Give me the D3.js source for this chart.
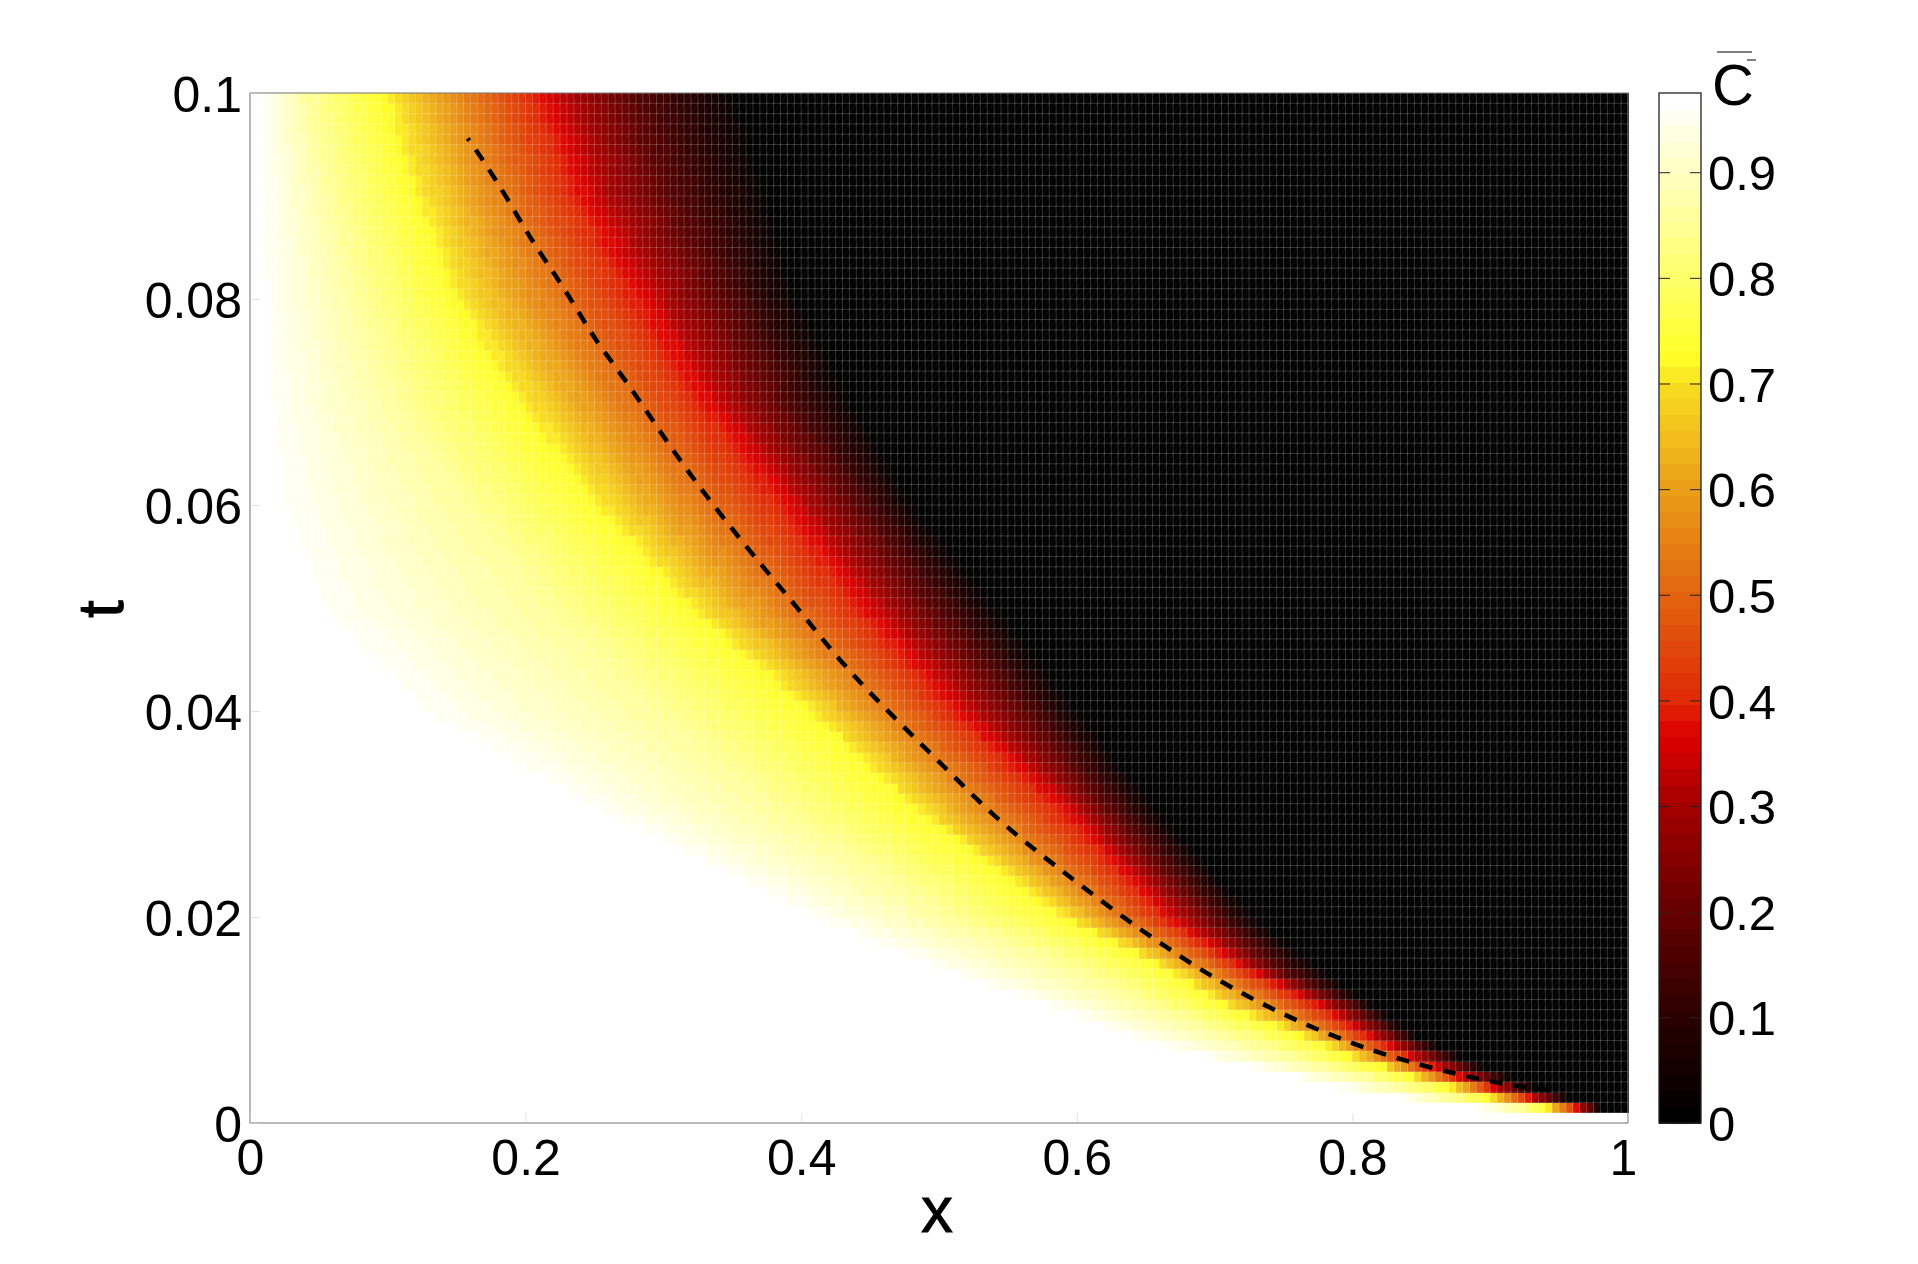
<!DOCTYPE html>
<html>
<head>
<meta charset="utf-8">
<script src="https://cdn.jsdelivr.net/npm/d3@7"></script>
<style>
body { margin: 0; background: #fff; }
text { font-family: "Liberation Sans", sans-serif; fill: #000; }
.axis path { display: none; }
</style>
</head>
<body>
<svg id="chart" width="1918" height="1264"></svg>
<script>
var xTicks = [0, 0.2, 0.4, 0.6, 0.8, 1];
var tTicks = [0, 0.02, 0.04, 0.06, 0.08, 0.1];
var cTicks = [0, 0.1, 0.2, 0.3, 0.4, 0.5, 0.6, 0.7, 0.8, 0.9];

// isolines: x where C-bar crosses each level, at each t.
// only these rows were read; the 200x100 cells in between are resampled from them
var levels = [0.961, 0.85, 0.731, 0.366, 0.18, 0.02];
var rowT = [0.0005, 0.0015, 0.0025, 0.0035, 0.0045, 0.0065, 0.0085, 0.0115, 0.015, 0.02, 0.03, 0.04, 0.05, 0.06, 0.07, 0.08, 0.09, 0.1];
var lineW = [1.02, 0.890, 0.835, 0.791, 0.757, 0.692, 0.639, 0.579, 0.501, 0.410, 0.259, 0.129, 0.054, 0.026, 0.016, 0.012, 0.011, 0.009];
var lineP = [1.03, 0.922, 0.871, 0.838, 0.809, 0.755, 0.711, 0.653, 0.598, 0.510, 0.390, 0.300, 0.220, 0.160, 0.110, 0.080, 0.060, 0.042];
var lineY = [1.04, 0.941, 0.900, 0.871, 0.844, 0.798, 0.762, 0.705, 0.664, 0.588, 0.483, 0.403, 0.316, 0.248, 0.192, 0.145, 0.118, 0.094];
var lineR = [1.05, 0.963, 0.929, 0.902, 0.878, 0.842, 0.813, 0.776, 0.724, 0.668, 0.597, 0.517, 0.449, 0.393, 0.335, 0.286, 0.244, 0.215];
var lineD = [1.06, 0.972, 0.943, 0.918, 0.898, 0.861, 0.831, 0.798, 0.745, 0.700, 0.627, 0.562, 0.495, 0.440, 0.385, 0.343, 0.303, 0.275];
var lineB = [1.07, 0.980, 0.956, 0.931, 0.914, 0.878, 0.847, 0.815, 0.775, 0.728, 0.660, 0.600, 0.540, 0.480, 0.435, 0.395, 0.372, 0.350];

// dashed curve
var curveX = [0.158, 0.164, 0.186, 0.204, 0.225, 0.243, 0.255, 0.275, 0.305, 0.337, 0.372, 0.397, 0.428, 0.467, 0.506, 0.544, 0.586, 0.631, 0.676, 0.721, 0.771, 0.822, 0.876, 0.912, 0.948];
var curveT = [0.0956, 0.0945, 0.0900, 0.0857, 0.0817, 0.0777, 0.0752, 0.0717, 0.0656, 0.0598, 0.0540, 0.0501, 0.0448, 0.0394, 0.0343, 0.0292, 0.0248, 0.0202, 0.0160, 0.0124, 0.0092, 0.0066, 0.0047, 0.0037, 0.0031];

// colormap as it looks on the colorbar, stops are fractions of cMax
var mapStops = [0, 0.103, 0.205, 0.308, 0.375, 0.41, 0.513, 0.615, 0.718, 0.75, 1];
var mapColors = ["#000000", "#2e0000", "#680000", "#a50000", "#df0000", "#e02a06", "#e2640f", "#ea9c18", "#f8dc20", "#ffff28", "#ffffff"];

var cMax = 0.975, nColors = 64, nCols = 200, nRows = 100;

var svg = d3.select("#chart");
var x = d3.scaleLinear().domain([0, 1]).range([250, 1628]);
var y = d3.scaleLinear().domain([0, 0.1]).range([1123, 93]);
var cy = d3.scaleLinear().domain([0, cMax]).range([1123, 93]);

var hot = d3.scaleLinear().domain(mapStops).range(mapColors);
function colorOf(v) {
  var bin = Math.min(nColors - 1, Math.floor(v / cMax * nColors));
  return hot(bin / (nColors - 1));
}

var isolines = [lineW, lineP, lineY, lineR, lineD, lineB].map(function(l) {
  return d3.scaleLinear().domain(rowT).range(l).clamp(true);
});

var cells = [];
d3.range(nRows).forEach(function(j) {
  var t = (j + 0.5) * 0.1 / nRows;
  var prof = d3.scaleLinear()
      .domain(isolines.map(function(f) { return f(t); }))
      .range(levels).clamp(true);
  d3.range(nCols).forEach(function(i) {
    var v = prof((i + 0.5) / nCols);
    cells.push({i: i, j: j, v: v >= levels[0] ? cMax : v <= levels[5] ? 0 : v});
  });
});

var cw = x(1 / nCols) - x(0), ch = y(0) - y(0.1 / nRows);
svg.append("g").attr("shape-rendering", "crispEdges")
  .selectAll("rect")
  .data(cells)
  .enter().append("rect")
    .attr("x", function(d) { return x(d.i / nCols); })
    .attr("y", function(d) { return y((d.j + 1) * 0.1 / nRows); })
    .attr("width", cw + 0.5)
    .attr("height", ch + 0.5)
    .attr("fill", function(d) { return colorOf(d.v); });

// seams of the triangle mesh
var mesh = d3.path(), diag = d3.path();
d3.range(nCols + 1).forEach(function(i) {
  mesh.moveTo(x(i / nCols), y(0));
  mesh.lineTo(x(i / nCols), y(0.1));
});
d3.range(nRows + 1).forEach(function(j) {
  mesh.moveTo(x(0), y(j * 0.1 / nRows));
  mesh.lineTo(x(1), y(j * 0.1 / nRows));
});
cells.forEach(function(d) {
  diag.moveTo(x(d.i / nCols), y(d.j * 0.1 / nRows));
  diag.lineTo(x((d.i + 1) / nCols), y((d.j + 1) * 0.1 / nRows));
});
svg.append("path").attr("d", mesh.toString()).attr("fill", "none")
    .attr("stroke", "#fff").attr("stroke-opacity", 0.2).attr("stroke-width", 1);
svg.append("path").attr("d", diag.toString()).attr("fill", "none")
    .attr("stroke", "#fff").attr("stroke-opacity", 0.12).attr("stroke-width", 0.6);

// dashed line
var line = d3.line()
    .x(function(d) { return x(d[0]); })
    .y(function(d) { return y(d[1]); })
    .curve(d3.curveBasis);
svg.append("path")
    .datum(d3.zip(curveX, curveT))
    .attr("d", line)
    .attr("fill", "none")
    .attr("stroke", "#000")
    .attr("stroke-width", 4.5)
    .attr("stroke-dasharray", "13,11")
    .attr("stroke-dashoffset", 10);

// frame
svg.append("rect")
    .attr("x", x(0)).attr("y", y(0.1))
    .attr("width", x(1) - x(0)).attr("height", y(0) - y(0.1))
    .attr("fill", "none").attr("stroke", "#707070").attr("stroke-width", 1);

// axes
var fmt = function(d) { return String(+d.toFixed(2)); };
var xAxis = svg.append("g").attr("class", "axis")
    .attr("transform", "translate(0,1123)")
    .call(d3.axisBottom(x).tickValues(xTicks).tickFormat(fmt).tickSize(-10).tickPadding(16));
xAxis.selectAll("line").attr("stroke", "#ccc").attr("stroke-width", 0.6);
xAxis.selectAll("text")
    .attr("font-size", 50).attr("font-family", "Liberation Sans").attr("fill", "#000")
    .attr("dx", function(d) { return d === 1 ? -5 : 0; });

var tAxis = svg.append("g").attr("class", "axis")
    .attr("transform", "translate(250,2)")
    .call(d3.axisLeft(y).tickValues(tTicks).tickFormat(fmt).tickSize(-10).tickPadding(8));
tAxis.selectAll("line").attr("stroke", "#ccc").attr("stroke-width", 0.6).attr("transform", "translate(0,-2)");
tAxis.selectAll("text")
    .attr("font-size", 50).attr("font-family", "Liberation Sans").attr("fill", "#000");

svg.append("text").attr("x", 937).attr("y", 1232).attr("text-anchor", "middle")
    .attr("font-size", 64).attr("stroke", "#000").attr("stroke-width", 0.8).text("x");
svg.append("text").attr("transform", "translate(123,609) rotate(-90)").attr("text-anchor", "middle")
    .attr("font-size", 64).attr("stroke", "#000").attr("stroke-width", 0.8).text("t");

// colorbar
var barLeft = 1659, barRight = 1701;
svg.append("g").attr("shape-rendering", "crispEdges")
  .selectAll("rect")
  .data(d3.range(nColors))
  .enter().append("rect")
    .attr("x", barLeft)
    .attr("y", function(d) { return cy((d + 1) * cMax / nColors); })
    .attr("width", barRight - barLeft)
    .attr("height", (cy(0) - cy(cMax)) / nColors + 0.5)
    .attr("fill", function(d) { return hot(d / (nColors - 1)); });

svg.append("rect")
    .attr("x", barLeft).attr("y", cy(cMax))
    .attr("width", barRight - barLeft).attr("height", cy(0) - cy(cMax))
    .attr("fill", "none").attr("stroke", "#222").attr("stroke-width", 1.3);

var cAxis = svg.append("g").attr("class", "axis")
    .attr("transform", "translate(" + barRight + ",0)")
    .call(d3.axisRight(cy).tickValues(cTicks).tickFormat(fmt).tickSize(-11).tickPadding(7));
cAxis.selectAll("line").attr("stroke", "#222");
cAxis.selectAll("text")
    .attr("font-size", 49).attr("font-family", "Liberation Sans").attr("fill", "#000").attr("dy", "0.36em");

svg.append("g").attr("class", "axis")
    .attr("transform", "translate(" + barLeft + ",0)")
    .call(d3.axisLeft(cy).tickValues(cTicks).tickFormat("").tickSize(-11))
  .selectAll("line").attr("stroke", "#222");

// C with bar
svg.append("text").attr("x", 1712).attr("y", 105).attr("font-size", 58).text("C");
svg.append("line").attr("x1", 1717).attr("x2", 1752).attr("y1", 52).attr("y2", 52)
    .attr("stroke", "#000").attr("stroke-width", 1);
svg.append("line").attr("x1", 1747).attr("x2", 1756).attr("y1", 60).attr("y2", 60)
    .attr("stroke", "#000").attr("stroke-width", 1);
</script>
</body>
</html>
